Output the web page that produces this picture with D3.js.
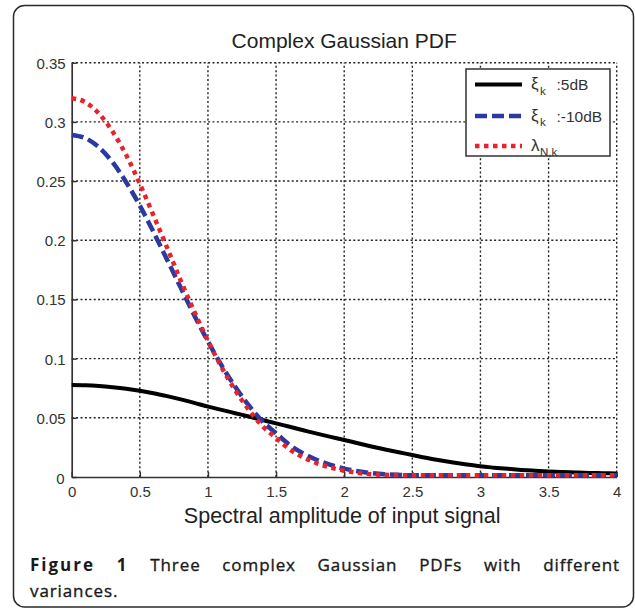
<!DOCTYPE html>
<html>
<head>
<meta charset="utf-8">
<script src="https://cdn.jsdelivr.net/npm/d3@7"></script>
<style>
  html, body { margin: 0; padding: 0; background: #fff; }
  svg { display: block; }
</style>
</head>
<body>
<svg id="chart" width="635" height="611"></svg>
<script>
// ---- data ----
const xValues = [0, 0.1, 0.2, 0.3, 0.4, 0.5, 0.6, 0.7, 0.8, 0.9, 1.0, 1.1, 1.2, 1.3, 1.4, 1.5, 1.6, 1.7, 1.8, 1.9, 2.0,
  2.1, 2.2, 2.3, 2.4, 2.5, 2.6, 2.7, 2.8, 2.9, 3.0, 3.1, 3.2, 3.3, 3.4, 3.5, 3.6, 3.7, 3.8, 3.9, 4.0];
const xi5dB = [0.0777, 0.0775, 0.0769, 0.0759, 0.0746, 0.0729, 0.0708, 0.0683, 0.0656, 0.0626, 0.0594,
  0.0567, 0.0539, 0.0511, 0.0482, 0.0453, 0.0424, 0.0395, 0.0366, 0.0339, 0.0313,
  0.0285, 0.0258, 0.0233, 0.0209, 0.0186, 0.0162, 0.0141, 0.0122, 0.0105, 0.0090,
  0.0079, 0.0069, 0.0060, 0.0053, 0.0047, 0.0042, 0.0038, 0.0034, 0.0032, 0.0030];
const xiMinus10dB = [0.289, 0.2863, 0.2785, 0.2659, 0.249, 0.2293, 0.207, 0.1836, 0.160, 0.1365, 0.1145,
  0.0943, 0.0762, 0.0604, 0.0470, 0.0370, 0.0270, 0.0199, 0.0144, 0.0102, 0.0071,
  0.0049, 0.0033, 0.0023, 0.0018, 0.0015, 0.0015, 0.0015, 0.0015, 0.0015, 0.0015,
  0.0015, 0.0015, 0.0015, 0.0015, 0.0015, 0.0015, 0.0015, 0.0015, 0.0015, 0.0015];
const lambdaNk = [0.320, 0.3167, 0.307, 0.2918, 0.272, 0.2477, 0.221, 0.1938, 0.166, 0.1397, 0.115,
  0.0927, 0.0733, 0.0567, 0.0430, 0.0330, 0.0233, 0.0166, 0.0116, 0.0080, 0.0053,
  0.0035, 0.0023, 0.0018, 0.0016, 0.0015, 0.0015, 0.0015, 0.0015, 0.0015, 0.0015,
  0.0015, 0.0015, 0.0015, 0.0015, 0.0015, 0.0015, 0.0015, 0.0015, 0.0015, 0.0015];
const xTicks = [0, 0.5, 1, 1.5, 2, 2.5, 3, 3.5, 4];
const yTicks = [0, 0.05, 0.1, 0.15, 0.2, 0.25, 0.3, 0.35];
const xTickLabels = ["0", "0.5", "1", "1.5", "2", "2.5", "3", "3.5", "4"];
const yTickLabels = ["0", "0.05", "0.1", "0.15", "0.2", "0.25", "0.3", "0.35"];
const titleText = "Complex Gaussian PDF";
const xTitle = "Spectral amplitude of input signal";
const captionBold = ["Figure", "1"];
const captionWords = ["Three", "complex", "Gaussian", "PDFs", "with", "different"];
const captionLine2 = "variances.";

const series = [
  { name: "xi5", values: xi5dB, color: "#000000", width: 4, dash: null, sym: "ξ", sub: "k", label: ":5dB" },
  { name: "xi10", values: xiMinus10dB, color: "#2b3a9e", width: 4.5, dash: "12 5", sym: "ξ", sub: "k", label: ":-10dB" },
  { name: "lambda", values: lambdaNk, color: "#e8232b", width: 4.5, dash: "4.5 4.5", sym: "λ", sub: "N,k", label: "" }
];

// ---- layout ----
const svg = d3.select("#chart");
const L = 71.7, R = 616.7, T = 62.7, B = 477;
const x = d3.scaleLinear().domain([0, 4]).range([L, R]);
const y = d3.scaleLinear().domain([0, 0.35]).range([B, T]);
const axisFont = "'Liberation Sans', Arial, sans-serif";
const textCol = "#333";

// outer rounded frame
svg.append("rect")
  .attr("x", 13.5).attr("y", 5.5).attr("width", 620).attr("height", 601.5)
  .attr("rx", 11).attr("ry", 11)
  .attr("fill", "#fff").attr("stroke", "#2a2a2a").attr("stroke-width", 1.5);

// grid
const grid = svg.append("g").attr("stroke", "#222").attr("stroke-width", 1.4).attr("stroke-dasharray", "2 2.4");
grid.selectAll("line.v").data(xTicks.filter(d => d > 0)).join("line")
  .attr("x1", d => x(d)).attr("x2", d => x(d)).attr("y1", B).attr("y2", T);
grid.selectAll("line.h").data(yTicks.filter(d => d > 0)).join("line")
  .attr("x1", L).attr("x2", R).attr("y1", d => y(d)).attr("y2", d => y(d));

// axes
const xAxis = d3.axisBottom(x).tickValues(xTicks).tickSizeInner(-5).tickSizeOuter(0)
  .tickPadding(10).tickFormat((d, i) => xTickLabels[i]);
const yAxis = d3.axisLeft(y).tickValues(yTicks).tickSizeInner(-5).tickSizeOuter(0)
  .tickPadding(10).tickFormat((d, i) => yTickLabels[i]);

const gx = svg.append("g").attr("transform", `translate(0,${B})`).call(xAxis);
const gy = svg.append("g").attr("transform", `translate(${L},0)`).call(yAxis);
[gx, gy].forEach(g => {
  g.select(".domain").attr("stroke", "#333").attr("stroke-width", 1.7);
  g.selectAll(".tick line").attr("stroke", "#333").attr("stroke-width", 1.5);
  g.selectAll(".tick text").attr("fill", textCol).attr("font-family", axisFont).attr("font-size", 15);
});
gx.selectAll(".tick text").attr("y", 20).attr("dy", 0);
gy.selectAll(".tick text").attr("x", -6).attr("dy", "0.36em");
gy.selectAll(".tick").filter(d => d === 0).select("text").attr("dy", "0.42em").attr("x", -7);

// lines
const line = d3.line().x((d, i) => x(xValues[i])).y(d => y(d)).curve(d3.curveMonotoneX);
series.forEach(s => {
  svg.append("path").datum(s.values)
    .attr("d", line)
    .attr("fill", "none")
    .attr("stroke", s.color)
    .attr("stroke-width", s.width)
    .attr("stroke-dasharray", s.dash)
    .attr("stroke-linejoin", "round");
});

// title
svg.append("text").attr("x", (L + R) / 2).attr("y", 47.5).attr("text-anchor", "middle")
  .attr("font-family", axisFont).attr("font-size", 21).attr("fill", "#222").text(titleText);

// x title
svg.append("text").attr("x", (L + R) / 2 - 2).attr("y", 523).attr("text-anchor", "middle")
  .attr("font-family", axisFont).attr("font-size", 21.5).attr("fill", "#222").text(xTitle);

// legend
const lg = svg.append("g");
lg.append("rect").attr("x", 466).attr("y", 69).attr("width", 144).attr("height", 87)
  .attr("fill", "#fff").attr("stroke", "#333").attr("stroke-width", 1.5);
const rowY = [84.5, 116, 146];
series.forEach((s, i) => {
  const yy = rowY[i];
  lg.append("line").attr("x1", 475).attr("x2", 522).attr("y1", yy).attr("y2", yy)
    .attr("stroke", s.color).attr("stroke-width", s.width).attr("stroke-dasharray", s.dash);
  lg.append("text").attr("x", 531).attr("y", yy + 4.5).attr("font-family", axisFont)
    .attr("font-size", 17).attr("fill", textCol).text(s.sym);
  lg.append("text").attr("x", 540).attr("y", yy + 10).attr("font-family", axisFont)
    .attr("font-size", 11.5).attr("fill", textCol).text(s.sub);
  if (s.label) {
    lg.append("text").attr("x", 556.5).attr("y", yy + 5.5).attr("font-family", axisFont)
      .attr("font-size", 15.5).attr("fill", textCol).text(s.label);
  }
});

// caption (justified first line)
const capFont = "'Open Sans', 'Noto Sans', sans-serif";
const capG = svg.append("g").attr("fill", "#1a1a1a").attr("font-family", capFont).attr("font-size", 17);
const words = captionBold.map(w => ({ w, bold: true })).concat(captionWords.map(w => ({ w, bold: false })));
const nodes = words.map(d => capG.append("text").attr("y", 571)
  .attr("letter-spacing", d.bold ? 2 : 0.9)
  .attr("font-weight", d.bold ? 700 : 400)
  .attr("stroke", d.bold ? null : "#1a1a1a").attr("stroke-width", d.bold ? null : 0.35)
  .text(d.w));
const widths = nodes.map(n => n.node().getComputedTextLength());
const x0 = 30, x1 = 620;
const gap = (x1 - x0 - d3.sum(widths)) / (nodes.length - 1);
let cx = x0;
nodes.forEach((n, i) => { n.attr("x", cx); cx += widths[i] + gap; });
capG.append("text").attr("x", 30).attr("y", 597).attr("letter-spacing", 0.9)
  .attr("stroke", "#1a1a1a").attr("stroke-width", 0.35).text(captionLine2);
</script>
</body>
</html>
